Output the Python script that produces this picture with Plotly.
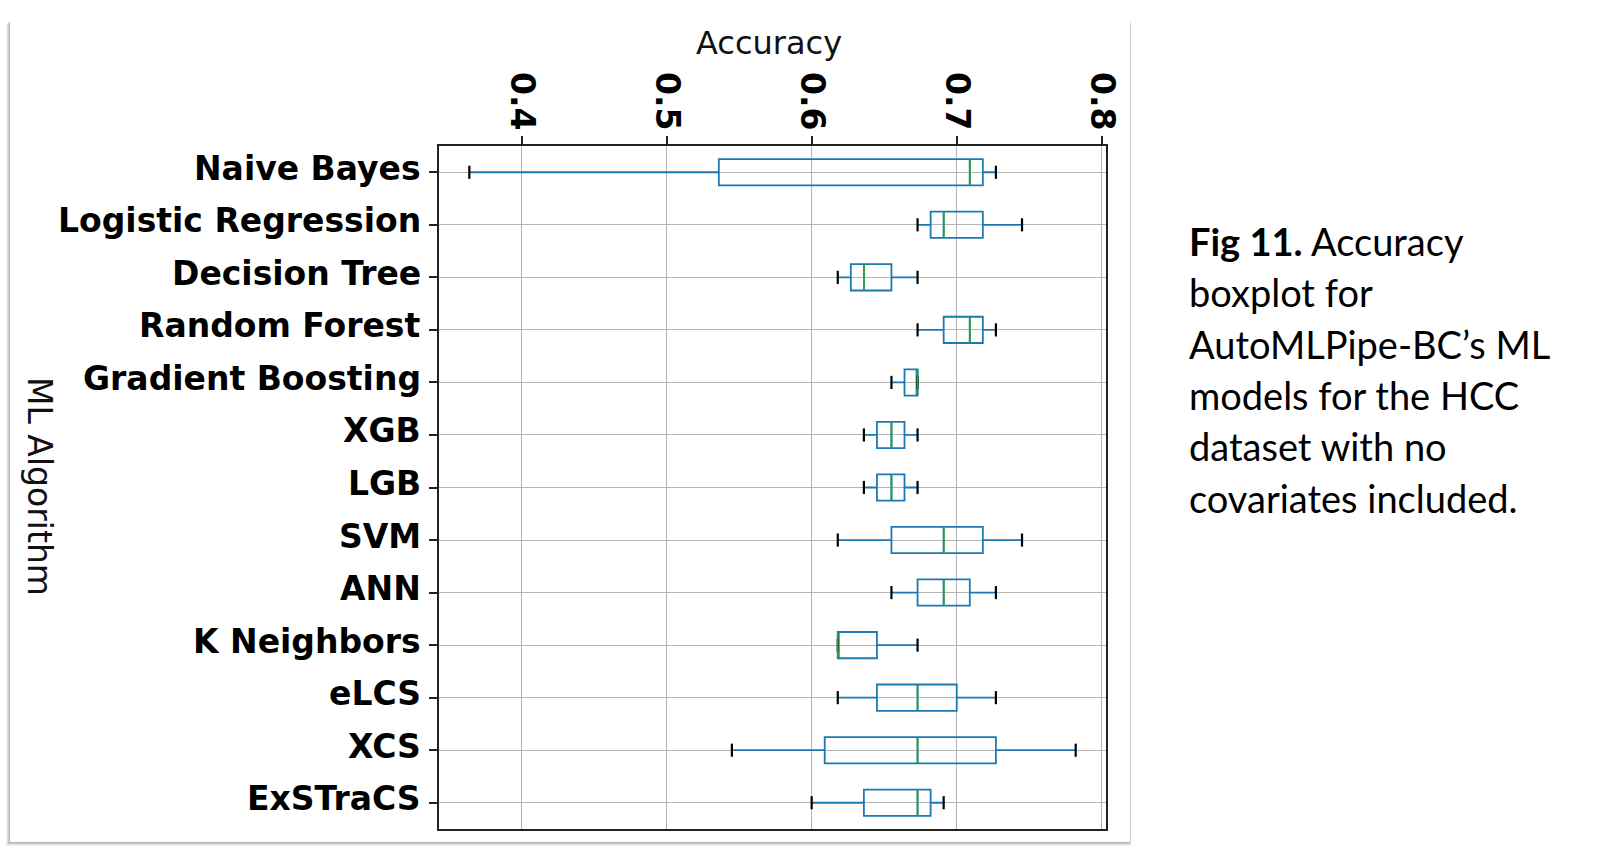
import plotly.graph_objects as go

# ---------------- data ----------------
algorithms = ["Naive Bayes", "Logistic Regression", "Decision Tree", "Random Forest",
              "Gradient Boosting", "XGB", "LGB", "SVM", "ANN", "K Neighbors",
              "eLCS", "XCS", "ExSTraCS"]
lower  = [0.364, 0.673, 0.618, 0.673, 0.655, 0.636, 0.636, 0.618, 0.655, 0.618, 0.618, 0.545, 0.600]
q1     = [0.536, 0.682, 0.627, 0.691, 0.664, 0.645, 0.645, 0.655, 0.673, 0.618, 0.645, 0.609, 0.636]
median = [0.709, 0.691, 0.636, 0.709, 0.673, 0.655, 0.655, 0.691, 0.691, 0.618, 0.673, 0.673, 0.673]
q3     = [0.718, 0.718, 0.655, 0.718, 0.673, 0.664, 0.664, 0.718, 0.709, 0.645, 0.700, 0.727, 0.682]
upper  = [0.727, 0.745, 0.673, 0.727, 0.673, 0.673, 0.673, 0.745, 0.727, 0.673, 0.727, 0.782, 0.691]
x_ticks = [0.4, 0.5, 0.6, 0.7, 0.8]
x_tick_labels = ["0.4", "0.5", "0.6", "0.7", "0.8"]
x_title = "Accuracy"
y_title = "ML Algorithm"
caption_lines = ["<b>Fig 11.</b> Accuracy", "boxplot for", "AutoMLPipe-BC\u2019s ML",
                 "models for the HCC", "dataset with no", "covariates included."]

# ---------------- layout geometry ----------------
W, H = 1615, 866
L, R, T, B = 439, 1106, 146, 829


def px(x):
    return (x - L) / (R - L)


def py(y):
    return (B - y) / (B - T)


positions = list(range(1, len(algorithms) + 1))
box_w = 0.5
cap_w = 0.25

fig = go.Figure()

fig.add_trace(go.Box(
    orientation="h", y=positions, q1=q1, median=median, q3=q3,
    lowerfence=lower, upperfence=upper, width=box_w, whiskerwidth=0,
    line=dict(color="#1f77b4", width=1.8), fillcolor="rgba(255,255,255,0)",
    boxpoints=False, hoverinfo="skip", showlegend=False))

cap_x, cap_y, med_x, med_y = [], [], [], []
for p, lo, hi, m in zip(positions, lower, upper, median):
    for v in (lo, hi):
        cap_x += [v, v, None]
        cap_y += [p - cap_w / 2, p + cap_w / 2, None]
    med_x += [m, m, None]
    med_y += [p - box_w / 2, p + box_w / 2, None]

fig.add_trace(go.Scatter(x=cap_x, y=cap_y, mode="lines",
                         line=dict(color="black", width=2.2), hoverinfo="skip", showlegend=False))
fig.add_trace(go.Scatter(x=med_x, y=med_y, mode="lines",
                         line=dict(color="#2ca02c", width=1.8), hoverinfo="skip", showlegend=False))

lo_all, hi_all = min(lower), max(upper)
pad = 0.05 * (hi_all - lo_all)

label_font = dict(family="DejaVu Sans", size=33, color="black", weight="bold")

fig.update_xaxes(side="top", range=[lo_all - pad, hi_all + pad], tickvals=x_ticks,
                 ticktext=x_tick_labels, tickangle=90, tickfont=label_font,
                 ticks="outside", ticklen=8, tickwidth=1.5, tickcolor="#222",
                 ticklabelstandoff=-6,
                 showgrid=True, gridcolor="#b4b4b4", gridwidth=1.3, zeroline=False,
                 showline=True, linecolor="#222", linewidth=1.8, mirror=True)
fig.update_yaxes(range=[len(algorithms) + 0.5, 0.5], tickvals=positions, showticklabels=False,
                 ticks="outside", ticklen=8, tickwidth=1.5, tickcolor="#222",
                 showgrid=True, gridcolor="#b4b4b4", gridwidth=1.3, zeroline=False,
                 showline=True, linecolor="#222", linewidth=1.8, mirror=True)

shapes = []
# card shadow + card
for off, op in [(4, 0.05), (3, 0.07), (2, 0.09), (1, 0.1)]:
    shapes.append(dict(type="rect", xref="paper", yref="paper", layer="below",
                       x0=px(10 - off), x1=px(1130 + off * 0.3), y0=py(842 + off), y1=py(20 + off),
                       line=dict(width=0), fillcolor=f"rgba(0,0,0,{op})"))
shapes.append(dict(type="rect", xref="paper", yref="paper", layer="below",
                   x0=px(10), x1=px(1130), y0=py(842), y1=py(20),
                   line=dict(width=0), fillcolor="white"))

annotations = [
    dict(text=x_title, xref="paper", yref="paper", x=0.495, y=py(43), xanchor="center",
         yanchor="middle", showarrow=False, font=dict(family="DejaVu Sans", size=32, color="#111")),
    dict(text=y_title, xref="paper", yref="paper", x=px(40), y=py(486), xanchor="center",
         yanchor="middle", textangle=90, showarrow=False,
         font=dict(family="DejaVu Sans", size=33, color="#111")),
]
# category labels (matplotlib-style placement: slightly above the tick)
for p, name in zip(positions, algorithms):
    annotations.append(dict(text=name, xref="paper", yref="y", x=0, y=p, xanchor="right",
                            yanchor="middle", xshift=-16, yshift=4, showarrow=False,
                            font=label_font))
line_gap = 51.3
for i, line in enumerate(caption_lines):
    annotations.append(dict(text=line, xref="paper", yref="paper", x=px(1187),
                            y=py(241 + i * line_gap), xanchor="left", yanchor="middle",
                            align="left", showarrow=False,
                            font=dict(family="Lato", size=38, color="black")))

fig.update_layout(width=W, height=H, autosize=False,
                  margin=dict(l=L, r=W - R, t=T, b=H - B, pad=0),
                  paper_bgcolor="white", plot_bgcolor="white",
                  shapes=shapes, annotations=annotations, showlegend=False)

fig.write_html("out.html", config={"displayModeBar": False},
               post_script="document.body.style.margin='0';document.body.style.padding='0';")
